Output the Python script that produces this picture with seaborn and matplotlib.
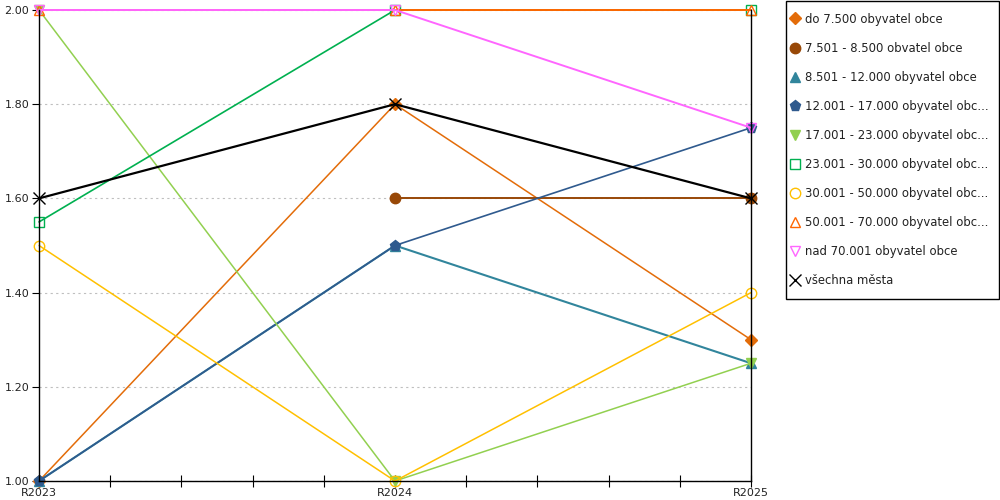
import numpy as np
import pandas as pd
import matplotlib
matplotlib.use("Agg")
import matplotlib.pyplot as plt
from matplotlib.lines import Line2D
from matplotlib.patches import Rectangle
from matplotlib.ticker import MultipleLocator, FormatStrFormatter
import seaborn as sns

sns.set_theme(style="white")
plt.rcParams['font.family'] = ['DejaVu Sans']

categories = ["R2023", "R2024", "R2025"]

labels = [
    "do 7.500 obyvatel obce",
    "7.501 - 8.500 obvatel obce",
    "8.501 - 12.000 obyvatel obce",
    "12.001 - 17.000 obyvatel obc...",
    "17.001 - 23.000 obyvatel obc...",
    "23.001 - 30.000 obyvatel obc...",
    "30.001 - 50.000 obyvatel obc...",
    "50.001 - 70.000 obyvatel obc...",
    "nad 70.001 obyvatel obce",
    "všechna města",
]

do_7500 = [1.00, 1.80, 1.30]
s_7501_8500 = [np.nan, 1.60, 1.60]
s_8501_12000 = [1.00, 1.50, 1.25]
s_12001_17000 = [1.00, 1.50, 1.75]
s_17001_23000 = [2.00, 1.00, 1.25]
s_23001_30000 = [1.55, 2.00, 2.00]
s_30001_50000 = [1.50, 1.00, 1.40]
s_50001_70000 = [2.00, 2.00, 2.00]
nad_70001 = [2.00, 2.00, 1.75]
vsechna_mesta = [1.60, 1.80, 1.60]

series_values = [do_7500, s_7501_8500, s_8501_12000, s_12001_17000, s_17001_23000,
                 s_23001_30000, s_30001_50000, s_50001_70000, nad_70001, vsechna_mesta]

colors = ["#E36C09", "#984807", "#31859C", "#2F5A8E", "#92D050",
          "#00B050", "#FFC000", "#FF6600", "#FF66FF", "#000000"]
markers = ["D", "o", "^", "p", "v", "s", "o", "^", "v", "x"]
filled = [True, True, True, True, True, False, False, False, False, True]
msizes = [6.0, 7.5, 7.5, 8.0, 7.5, 7.5, 7.5, 7.5, 7.5, 8.5]
lws = [1.1, 1.4, 1.5, 1.2, 1.1, 1.2, 1.1, 1.4, 1.4, 1.6]

rows = []
for lab, vals in zip(labels, series_values):
    for i, (c, v) in enumerate(zip(categories, vals)):
        rows.append({"series": lab, "pos": i, "value": v})
df = pd.DataFrame(rows)

fig = plt.figure(figsize=(10, 5), dpi=100)
ax = fig.add_axes([0.039, 0.038, 0.712, 0.942])

handles = []
for lab, col, mk, fl, ms, lw in zip(labels, colors, markers, filled, msizes, lws):
    sub = df[df["series"] == lab].dropna()
    mfc = col if fl else "none"
    sns.lineplot(data=sub, x="pos", y="value", ax=ax, color=col, linewidth=lw,
                 estimator=None, sort=False, legend=False,
                 marker=mk, markersize=ms, markeredgecolor=col, markerfacecolor=mfc,
                 markeredgewidth=1.0, clip_on=False)
    handles.append(Line2D([], [], linestyle="none", marker=mk, markersize=ms,
                          markeredgecolor=col, markerfacecolor=mfc,
                          markeredgewidth=1.0))

ax.set_xlim(0, 2)
ax.set_ylim(1.0, 2.0)
ax.set_xticks(range(len(categories)))
ax.set_xticklabels(categories)
ax.xaxis.set_minor_locator(MultipleLocator(0.2))
ax.set_yticks([1.0, 1.2, 1.4, 1.6, 1.8, 2.0])
ax.yaxis.set_major_formatter(FormatStrFormatter("%.2f"))
ax.set_xlabel("")
ax.set_ylabel("")

ax.grid(axis="y", color="#BFBFBF", linestyle=(0, (2, 3)), linewidth=0.8)
ax.grid(axis="x", visible=False)
for s in ["left", "bottom", "right"]:
    ax.spines[s].set_visible(True)
    ax.spines[s].set_color("black")
    ax.spines[s].set_linewidth(1.0)
    ax.spines[s].set_zorder(5)
ax.spines["top"].set_visible(False)

ax.tick_params(axis="x", which="both", direction="inout", length=8, width=0.8,
               colors="black", labelsize=8, pad=1, bottom=True)
ax.tick_params(axis="y", which="major", direction="out", length=5, width=0.8,
               colors="black", labelsize=8, pad=2, left=True)
for t in ax.get_xticklabels() + ax.get_yticklabels():
    t.set_color("#222222")

# legend frame (pixel box 786..999 x 1..299)
fig.patches.append(Rectangle((0.786, 1 - 299 / 500), 0.2125, 298 / 500,
                             transform=fig.transFigure, fill=False,
                             edgecolor="black", linewidth=1.0, zorder=1))

leg = fig.legend(handles, labels, loc="upper left", bbox_to_anchor=(0.7903, 0.975),
                 frameon=False, fontsize=8.4, labelspacing=1.38,
                 handlelength=0.8, handletextpad=0.5, borderpad=0,
                 borderaxespad=0)
for t in leg.get_texts():
    t.set_color("#222222")

fig.savefig("out.png", dpi=100)
